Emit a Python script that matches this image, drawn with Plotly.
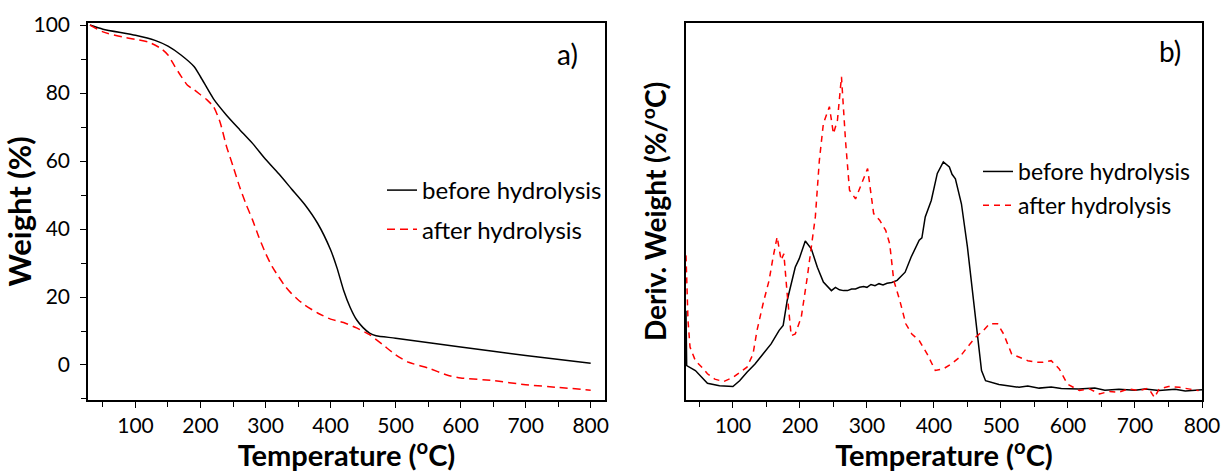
import plotly.graph_objects as go

# ---------------- Data ----------------
# a) TGA curves
tga_before_T = [30, 50, 100, 130, 150, 170, 190, 200, 220, 240, 260, 280, 300, 320, 340, 360,
                380, 400, 410, 420, 430, 440, 450, 460, 470, 500, 600, 700, 800]
tga_before_W = [100, 98.8, 97, 95.5, 93.8, 91.2, 87.8, 84.8, 78.3, 73.5, 69.3, 65.2, 60.5,
                56.3, 51.8, 47.3, 41.7, 33.9, 28.5, 22.0, 17.0, 13.3, 11.0, 9.4, 8.6, 7.9,
                5.3, 2.8, 0.5]

tga_after_T = [30, 50, 80, 100, 120, 140, 150, 160, 170, 180, 190, 200, 210, 220, 230, 240,
               250, 260, 270, 280, 290, 300, 310, 320, 330, 340, 350, 360, 380, 400, 420,
               440, 460, 480, 500, 520, 550, 580, 600, 650, 700, 750, 800]
tga_after_W = [100, 98, 96.5, 95.8, 95, 93, 91.2, 88, 85, 82.3, 81, 79.5, 78, 76, 71.5,
               64.3, 58.5, 52.5, 47.3, 42.7, 37.5, 32.9, 29, 26, 23.2, 21, 19.2, 17.7, 15.3,
               13.5, 12.5, 10.9, 8.9, 6, 3, 0.8, -0.9, -3, -3.8, -4.6, -5.8, -6.6, -7.4]

# b) DTG curves (arbitrary units, %/°C)
dtg_before_T = [30, 31, 44, 56, 62, 80, 100, 110, 121, 133, 145, 157, 169, 175, 181, 193,
                199, 208, 217, 226, 235, 247, 253, 259, 265, 271, 277, 283, 289, 295, 300,
                306, 312, 318, 324, 330, 337, 345, 357, 366, 378, 382, 387, 396, 405, 414,
                423, 427, 432, 441, 450, 459, 465, 471, 477, 490, 497, 510, 527, 540, 557,
                575, 590, 616, 640, 655, 676, 700, 715, 736, 760, 775, 800]
dtg_before_V = [0.187, 0.053, 0.041, 0.020, 0.010, 0.004, 0.002, 0.016, 0.037, 0.057,
                0.081, 0.106, 0.139, 0.151, 0.212, 0.293, 0.314, 0.357, 0.338, 0.293,
                0.257, 0.236, 0.244, 0.238, 0.236, 0.236, 0.240, 0.240, 0.244, 0.246,
                0.244, 0.251, 0.248, 0.253, 0.250, 0.254, 0.256, 0.261, 0.281, 0.318,
                0.359, 0.365, 0.416, 0.456, 0.522, 0.550, 0.538, 0.520, 0.509, 0.448,
                0.342, 0.212, 0.130, 0.041, 0.016, 0.010, 0.007, 0.004, 0.000, 0.003,
                -0.002, 0.001, -0.003, -0.004, -0.002, -0.007, -0.005, -0.007, -0.004,
                -0.008, -0.005, -0.009, -0.006]

dtg_after_T = [30, 33, 36, 44, 56, 62, 73, 86, 100, 110, 121, 130, 136, 145, 154, 160, 166,
               172, 176, 181, 187, 193, 202, 211, 217, 223, 229, 235, 244, 250, 256, 262,
               268, 274, 283, 292, 301, 310, 319, 328, 334, 340, 349, 358, 367, 378, 390,
               402, 414, 426, 438, 450, 462, 474, 483, 495, 504, 516, 528, 540, 552, 563,
               575, 587, 599, 617, 632, 647, 662, 676, 690, 706, 720, 729, 736, 750, 766,
               780, 795]
dtg_after_V = [0.322, 0.163, 0.098, 0.065, 0.045, 0.033, 0.020, 0.014, 0.024, 0.037,
               0.049, 0.081, 0.139, 0.204, 0.261, 0.318, 0.367, 0.310, 0.326, 0.228,
               0.126, 0.130, 0.171, 0.269, 0.342, 0.416, 0.554, 0.644, 0.685, 0.619,
               0.652, 0.758, 0.603, 0.481, 0.460, 0.497, 0.534, 0.424, 0.408, 0.383,
               0.350, 0.261, 0.212, 0.155, 0.130, 0.114, 0.081, 0.041, 0.045, 0.057,
               0.073, 0.098, 0.122, 0.139, 0.155, 0.155, 0.130, 0.081, 0.073, 0.065,
               0.061, 0.061, 0.065, 0.045, 0.008, -0.008, -0.004, -0.016, -0.010, -0.012,
               -0.004, -0.008, -0.002, -0.025, -0.004, 0.002, 0.000, -0.003, -0.008]

x_tick_vals = [100, 200, 300, 400, 500, 600, 700, 800]
y_tick_vals = [0, 20, 40, 60, 80, 100]

# ---------------- Figure ----------------
W, H = 1224, 472
FONT = "Lato"
RED = "#ff0000"

fig = go.Figure()

fig.add_trace(go.Scatter(x=tga_before_T, y=tga_before_W, mode="lines",
                         line=dict(color="black", width=1.5, shape="spline", smoothing=0.6),
                         name="before hydrolysis", xaxis="x", yaxis="y",
                         legend="legend", legendgroup="a1"))
fig.add_trace(go.Scatter(x=tga_after_T, y=tga_after_W, mode="lines",
                         line=dict(color=RED, width=1.5, dash="8px,5px", shape="spline", smoothing=0.6),
                         name="after hydrolysis", xaxis="x", yaxis="y",
                         legend="legend", legendgroup="a2"))
fig.add_trace(go.Scatter(x=dtg_before_T, y=dtg_before_V, mode="lines",
                         line=dict(color="black", width=1.5),
                         name="before hydrolysis", xaxis="x2", yaxis="y2",
                         legend="legend2", legendgroup="b1"))
fig.add_trace(go.Scatter(x=dtg_after_T, y=dtg_after_V, mode="lines",
                         line=dict(color=RED, width=1.5, dash="6px,5px"),
                         name="after hydrolysis", xaxis="x2", yaxis="y2",
                         legend="legend2", legendgroup="b2"))

xl0, xl1 = 88 / W, 605 / W
xr0, xr1 = 686 / W, 1202 / W
yd0, yd1 = (H - 400) / H, (H - 22.7) / H

xaxis_common = dict(
    tickvals=x_tick_vals, ticks="outside", ticklen=6, tickwidth=1.3, tickcolor="black",
    minor=dict(tickvals=[50, 150, 250, 350, 450, 550, 650, 750], ticks="outside",
               ticklen=5, tickwidth=1.3, tickcolor="black"),
    showline=True, linecolor="black", linewidth=1.6, mirror=True,
    showgrid=False, zeroline=False, automargin=False,
    tickfont=dict(family=FONT, size=21, color="black"),
    title=dict(text="<b>Temperature (<sup>o</sup>C)</b>",
               font=dict(family=FONT, size=29, color="black"), standoff=4),
)

fig.update_layout(
    width=W, height=H,
    margin=dict(l=0, r=0, t=0, b=0, autoexpand=False),
    paper_bgcolor="white", plot_bgcolor="white",
    xaxis=dict(domain=[xl0, xl1], range=[27, 822], anchor="y", **xaxis_common),
    yaxis=dict(domain=[yd0, yd1], range=[-10.3, 100.7], anchor="x",
               tickvals=y_tick_vals, ticks="outside", ticklen=6, tickwidth=1.3, tickcolor="black",
               minor=dict(tickvals=[-10, 10, 30, 50, 70, 90], ticks="outside", ticklen=5,
                          tickwidth=1.3, tickcolor="black"),
               showline=True, linecolor="black", linewidth=1.6, mirror=True,
               showgrid=False, zeroline=False, ticklabelstandoff=6, automargin=False,
               tickfont=dict(family=FONT, size=21, color="black"),
               title=dict(text="<b>Weight (%)</b>", font=dict(family=FONT, size=31, color="black"),
                          standoff=1)),
    xaxis2=dict(domain=[xr0, xr1], range=[30, 800], anchor="y2", **xaxis_common),
    yaxis2=dict(domain=[yd0, yd1], range=[-0.031, 0.89], anchor="x2",
                showticklabels=False, ticks="", automargin=False,
                showline=True, linecolor="black", linewidth=1.6, mirror=True,
                showgrid=False, zeroline=False,
                title=dict(text="<b>Deriv. Weight (%/<sup>o</sup>C)</b>",
                           font=dict(family=FONT, size=28, color="black"), standoff=9)),
    legend=dict(x=382 / W, y=1 - 168 / H, xanchor="left", yanchor="top",
                bgcolor="rgba(0,0,0,0)", borderwidth=0, tracegroupgap=5,
                font=dict(family=FONT, size=24, color="black")),
    legend2=dict(x=978 / W, y=1 - 150 / H, xanchor="left", yanchor="top",
                 bgcolor="rgba(0,0,0,0)", borderwidth=0, tracegroupgap=1,
                 font=dict(family=FONT, size=23, color="black")),
    annotations=[
        dict(text="a)", x=567 / W, y=1 - 54 / H, xref="paper", yref="paper",
             xanchor="center", yanchor="middle",
             showarrow=False, font=dict(family=FONT, size=28, color="black")),
        dict(text="b)", x=1170 / W, y=1 - 51 / H, xref="paper", yref="paper",
             xanchor="center", yanchor="middle",
             showarrow=False, font=dict(family=FONT, size=28, color="black")),
    ],
)

fig.write_html("out.html")
